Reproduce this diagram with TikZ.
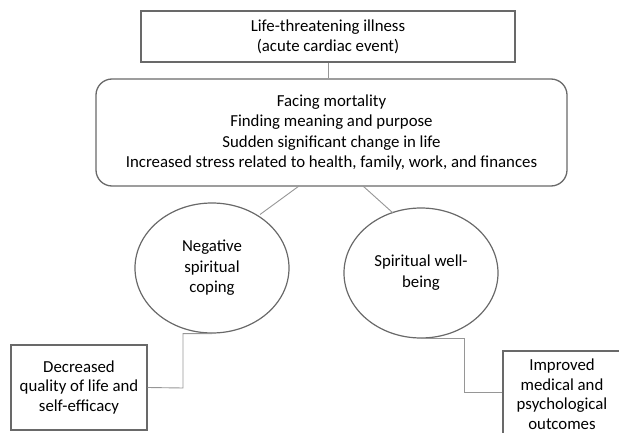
\documentclass[tikz,border=0pt]{standalone}
\usepackage{fontspec}
\setmainfont{Carlito}
\usetikzlibrary{shapes.geometric}
\definecolor{bordercol}{RGB}{105,105,105}
\definecolor{linecol}{RGB}{150,150,150}
\tikzset{
  px/.style={x=1pt,y=-1pt},
  boxA/.style={draw=bordercol, line width=1.3pt, rectangle, align=center, inner sep=0pt},
  roundbox/.style={boxA, rounded corners=16pt},
  ell/.style={draw=bordercol, line width=1.2pt, ellipse, align=center, inner sep=0pt},
  conn/.style={draw=linecol, line width=0.9pt},
  txt/.style={font=\fontsize{16.8}{#1}\selectfont},
}
\lineskiplimit=-20pt
\begin{document}
\lineskiplimit=-20pt
\begin{tikzpicture}[px]
\useasboundingbox (0,0) rectangle (619,433);
\clip (0,0) rectangle (619,433);
\node[boxA, txt=20, minimum width=374pt, minimum height=51pt] (top) at (328,36.5)
  {Life-threatening illness\\(acute cardiac event)};
\node[roundbox, txt=20.5, minimum width=471pt, minimum height=107pt] (mid) at (331.5,132.5)
  {Facing mortality\\Finding meaning and purpose\\Sudden significant change in life\\Increased stress related to health, family, work, and finances};
\node[ell, txt=20.5, minimum width=154pt, minimum height=130pt] (neg) at (212,268)
  {Negative\\spiritual\\coping};
\node[ell, txt=21, minimum width=154pt, minimum height=130pt] (swb) at (421,273)
  {Spiritual well-\\being};
\node[boxA, txt=19.5, minimum width=136pt, minimum height=85pt] (dec) at (79,387.5)
  {Decreased\\quality of life and\\self-efficacy};
\node[boxA, txt=19.5, minimum width=118pt, minimum height=86pt] (imp) at (562,394)
  {Improved\\medical and\\psychological\\outcomes};
\coordinate (mL) at (299,186);
\coordinate (mR) at (363,186);
\coordinate (nT) at (260,214.5);
\coordinate (sT) at (393,213);
\draw[conn] (top.south) -- (mid.north -| top.south);
\draw[conn] (mL) -- (nT);
\draw[conn] (mR) -- (sT);
\draw[conn] (neg.south) -| (183,388) -- (dec.east);
\draw[conn] (swb.south) -| (464,392) -- (imp.west |- 0,392);
\end{tikzpicture}
\end{document}
